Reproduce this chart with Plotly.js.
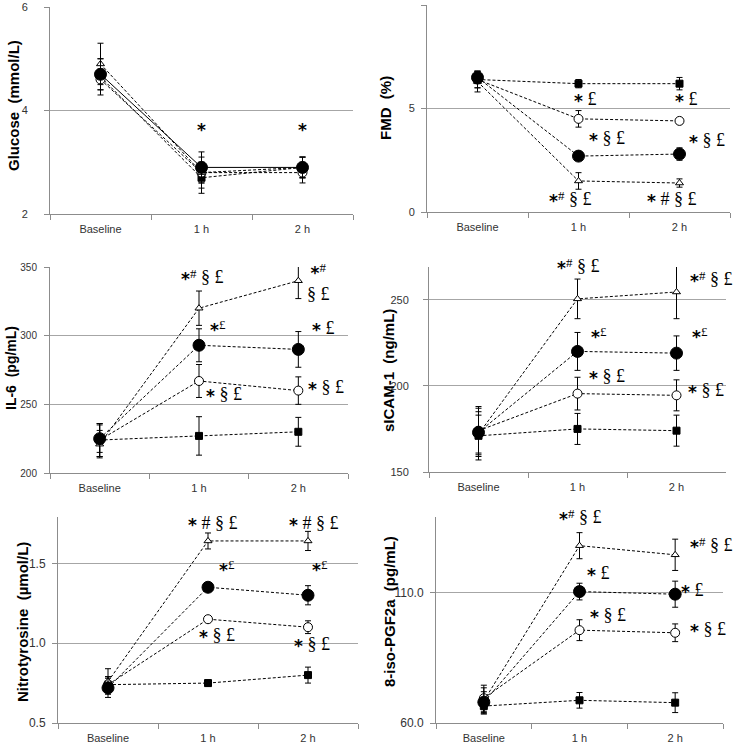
<!DOCTYPE html>
<html>
<head>
<meta charset="utf-8">
<script src="https://cdn.plot.ly/plotly-3.0.1.min.js"></script>
<style>html,body{margin:0;padding:0;background:#fff;}#chart{width:737px;height:744px;}</style>
</head>
<body>
<div id="chart"></div>
<script>
const categories = ['Baseline', '1 h', '2 h'];

// Glucose (mmol/L)
const glucoseSquare = [4.65, 2.7, 2.9];
const glucoseSquareErr = [0.35, 0.3, 0.2];
const glucoseFilled = [4.7, 2.9, 2.9];
const glucoseFilledErr = [0.3, 0.3, 0.2];
const glucoseOpen = [4.6, 2.8, 2.8];
const glucoseOpenErr = [0.2, 0.2, 0.2];
const glucoseTriangle = [4.9, 2.8, 2.9];
const glucoseTriangleErr = [0.4, 0.3, 0.2];

// FMD (%)
const fmdSquare = [6.4, 6.2, 6.2];
const fmdSquareErr = [0.4, 0.2, 0.3];
const fmdFilled = [6.5, 2.7, 2.8];
const fmdFilledErr = [0.3, 0.15, 0.3];
const fmdOpen = [6.4, 4.5, 4.4];
const fmdOpenErr = [0.4, 0.4, 0.15];
const fmdTriangle = [6.3, 1.5, 1.4];
const fmdTriangleErr = [0.5, 0.4, 0.2];

// IL-6 (pg/mL)
const il6Square = [224, 227, 230];
const il6SquareErr = [12, 14, 10.5];
const il6Filled = [225, 293, 290];
const il6FilledErr = [10, 12, 13];
const il6Open = [224, 267, 260];
const il6OpenErr = [12, 12, 10];
const il6Triangle = [221, 320, 340];
const il6TriangleErr = [10, 12.5, 13];

// sICAM-1 (ng/mL)
const sicamSquare = [171, 175, 174];
const sicamSquareErr = [12, 9, 9];
const sicamFilled = [173, 220, 219];
const sicamFilledErr = [12, 11, 10];
const sicamOpen = [174, 195.5, 194.5];
const sicamOpenErr = [14, 9.5, 9];
const sicamTriangle = [172, 250.5, 254.5];
const sicamTriangleErr = [15, 11.5, 15.5];

// Nitrotyrosine (µmol/L)
const ntSquare = [0.74, 0.75, 0.80];
const ntSquareErr = [0.05, 0.02, 0.05];
const ntFilled = [0.72, 1.35, 1.30];
const ntFilledErr = [0.06, 0.02, 0.06];
const ntOpen = [0.74, 1.15, 1.10];
const ntOpenErr = [0.05, 0.02, 0.04];
const ntTriangle = [0.76, 1.64, 1.64];
const ntTriangleErr = [0.08, 0.05, 0.06];

// 8-iso-PGF2a (pg/mL)
const isoSquare = [66.5, 68.7, 67.8];
const isoSquareErr = [3, 3, 3.8];
const isoFilled = [68, 110.4, 109.4];
const isoFilledErr = [4, 3.2, 5];
const isoOpen = [69.5, 95.6, 94.6];
const isoOpenErr = [5, 4, 3.4];
const isoTriangle = [68.5, 128, 124.5];
const isoTriangleErr = [5, 5, 6];

// Significance labels ("^" marks a raised symbol)
const sigGlucose = ['*', '*'];
const sigFmd = ['* £', '* £', '* § £', '* § £', '*^# § £', '* # § £'];
const sigIl6 = ['*^# § £', '*^#<br>§ £', '*^£', '* £', '* § £', '* § £'];
const sigSicam = ['*^# § £', '*^# § £', '*^£', '*^£', '* § £', '* § £'];
const sigNt = ['* # § £', '* # § £', '*^£', '*^£', '* § £', '* § £'];
const sigIso = ['*^# § £', '*^# § £', '* £', '* £', '* § £', '* § £'];

const titles = ['Glucose  (mmol/L)', 'FMD  (%)', 'IL-6  (pg/mL)', 'sICAM-1  (ng/mL)', 'Nitrotyrosine  (µmol/L)', '8-iso-PGF2a  (pg/mL)'];

const W = 737, H = 744;
const panels = [
  {series: [[glucoseSquare, glucoseSquareErr], [glucoseOpen, glucoseOpenErr], [glucoseTriangle, glucoseTriangleErr], [glucoseFilled, glucoseFilledErr]],
   px: [50, 353], py: [7, 214], range: [2, 6], dtick: 2, fmt: '', solidFilled: true, titleX: 14, titleY: 106, tfs: 15, yfs: 11, ysd: 14},
  {series: [[fmdSquare, fmdSquareErr], [fmdOpen, fmdOpenErr], [fmdTriangle, fmdTriangleErr], [fmdFilled, fmdFilledErr]],
   px: [427, 730], py: [5, 212], range: [0, 10], dtick: 5, fmt: '', titleX: 386, titleY: 108, tfs: 15, yfs: 11, ysd: 4},
  {series: [[il6Square, il6SquareErr], [il6Open, il6OpenErr], [il6Triangle, il6TriangleErr], [il6Filled, il6FilledErr]],
   px: [50, 348], py: [267, 473], range: [200, 350], dtick: 50, fmt: '', titleX: 11, titleY: 368, tfs: 14, yfs: 10, ysd: 5},
  {series: [[sicamSquare, sicamSquareErr], [sicamOpen, sicamOpenErr], [sicamTriangle, sicamTriangleErr], [sicamFilled, sicamFilledErr]],
   px: [429, 726], py: [267, 472], range: [150, 269], dtick: 50, fmt: '', titleX: 388, titleY: 371, tfs: 15, yfs: 11, ysd: 12},
  {series: [[ntSquare, ntSquareErr], [ntOpen, ntOpenErr], [ntTriangle, ntTriangleErr], [ntFilled, ntFilledErr]],
   px: [58, 358], py: [517, 723], range: [0.5, 1.79], dtick: 0.5, fmt: '.1f', titleX: 22, titleY: 622, tfs: 15, yfs: 12, ysd: 4},
  {series: [[isoSquare, isoSquareErr], [isoOpen, isoOpenErr], [isoTriangle, isoTriangleErr], [isoFilled, isoFilledErr]],
   px: [436, 723], py: [517, 723], range: [60, 139], dtick: 50, fmt: '.1f', titleX: 389, titleY: 612, tfs: 15, yfs: 12, ysd: 4}
];

// marker styles: square, open circle, triangle, filled circle
const markerStyles = [
  {symbol: 'square', size: 7, color: '#000', line: {color: '#000', width: 1}},
  {symbol: 'circle', size: 9, color: '#fff', line: {color: '#000', width: 1}},
  {symbol: 'triangle-up', size: 7, color: '#fff', line: {color: '#000', width: 1}},
  {symbol: 'circle', size: 12, color: '#000', line: {color: '#000', width: 1}}
];

// annotation placements [catIndex + offset, y, anchor, yshift]
const sigPlacements = [
  {labels: sigGlucose, pos: [[1, 3.62, 'center', 0], [2, 3.62, 'center', 0]]},
  {labels: sigFmd, pos: [[1.065, 5.4, 'center', 0], [2.065, 5.4, 'center', 0], [1.28, 3.55, 'center', 0], [2.27, 3.42, 'center', 0], [0.915, 0.58, 'center', 0], [1.92, 0.58, 'center', 0]]},
  {labels: sigIl6, pos: [[1.03, 342, 'center', 0], [2.07, 339, 'left', 0], [1.19, 305, 'center', 0], [2.25, 305, 'center', 0], [1.25, 257, 'center', 0], [2.28, 262, 'center', 0]]},
  {labels: sigSicam, pos: [[1.0, 268, 'center', 2], [2.35, 262, 'center', 0], [1.22, 229, 'center', 0], [2.24, 229, 'center', 0], [1.3, 205, 'center', 0], [2.3, 197, 'center', 0]]},
  {labels: sigNt, pos: [[1.04, 1.745, 'center', 0], [2.05, 1.745, 'center', 0], [1.19, 1.47, 'center', 0], [2.12, 1.47, 'center', 0], [1.09, 1.045, 'center', 0], [2.04, 0.99, 'center', 0]]},
  {labels: sigIso, pos: [[1.0, 138, 'center', 2], [2.37, 128, 'center', 0], [1.19, 117, 'center', 0], [2.18, 110.5, 'center', 0], [1.3, 101, 'center', 0], [2.34, 95.6, 'center', 0]]}
];

function styleSig(t) {
  return t
    .replace(/\^(.)/g, '<span style="font-size:13px;baseline-shift:35%">$1</span>')
    .replace('*', '<span style="font-family:DejaVu Sans;font-weight:bold;font-size:17px;baseline-shift:-2px">*</span>');
}

const data = [];
const layout = {
  width: W, height: H,
  margin: {l: 0, r: 0, t: 0, b: 0},
  paper_bgcolor: '#fff', plot_bgcolor: 'rgba(0,0,0,0)',
  showlegend: false,
  font: {family: 'Liberation Sans, Arial, sans-serif', color: '#404040', size: 11},
  annotations: []
};

panels.forEach((p, i) => {
  const n = i + 1;
  const xa = 'x' + (n === 1 ? '' : n), ya = 'y' + (n === 1 ? '' : n);
  const xKey = 'xaxis' + (n === 1 ? '' : n), yKey = 'yaxis' + (n === 1 ? '' : n);
  p.series.forEach((s, k) => {
    const solid = p.solidFilled && k === 3;
    data.push({
      type: 'scatter', mode: 'lines+markers', x: categories, y: s[0],
      xaxis: xa, yaxis: ya, cliponaxis: false,
      line: {color: '#000', width: 1, dash: solid ? 'solid' : '3px,2px'},
      marker: markerStyles[k],
      error_y: {type: 'data', array: s[1], visible: true, color: '#000', thickness: 1, width: 3},
      hoverinfo: 'skip'
    });
  });
  layout[xKey] = {
    domain: [p.px[0] / W, p.px[1] / W], anchor: ya, type: 'category',
    categoryorder: 'array', categoryarray: categories,
    range: [-0.5, 2.5], showgrid: false, zeroline: false,
    showline: true, linecolor: '#8c8c8c', linewidth: 1,
    ticks: 'outside', tickson: 'boundaries', ticklen: 5, tickcolor: '#8c8c8c',
    ticklabelstandoff: 5,
    tickfont: {size: 11, color: '#333'}, fixedrange: true
  };
  layout[yKey] = {
    domain: [1 - p.py[1] / H, 1 - p.py[0] / H], anchor: xa,
    range: p.range, dtick: p.dtick, tick0: p.range[0], tickformat: p.fmt,
    showgrid: true, gridcolor: '#a6a6a6', gridwidth: 1, zeroline: false,
    showline: true, linecolor: '#8c8c8c', linewidth: 1,
    ticks: 'outside', ticklen: 5, tickcolor: '#8c8c8c',
    ticklabelstandoff: p.ysd,
    tickfont: {size: p.yfs, color: '#333'}, fixedrange: true
  };
  layout.annotations.push({
    text: '<b>' + titles[i] + '</b>', xref: 'paper', yref: 'paper',
    x: p.titleX / W, y: 1 - p.titleY / H, xanchor: 'center', yanchor: 'middle',
    textangle: -90, showarrow: false,
    font: {family: 'Liberation Sans, Arial, sans-serif', size: p.tfs, color: '#000'}
  });
  const sp = sigPlacements[i];
  sp.pos.forEach((q, j) => {
    layout.annotations.push({
      text: styleSig(sp.labels[j]), xref: xa, yref: ya, x: q[0], y: q[1],
      xanchor: q[2], yanchor: 'middle', yshift: q[3], showarrow: false,
      font: {family: 'Liberation Serif, Times New Roman, serif', size: 18, color: '#000'}
    });
  });
});

Plotly.newPlot('chart', data, layout, {staticPlot: true, displayModeBar: false});
</script>
</body>
</html>
